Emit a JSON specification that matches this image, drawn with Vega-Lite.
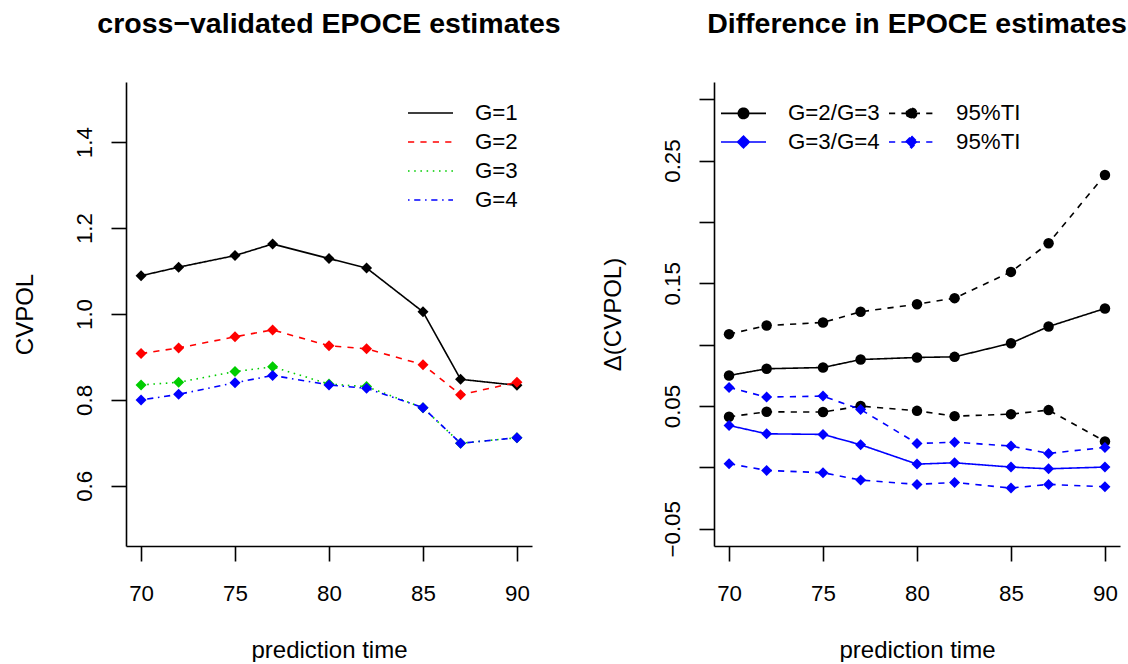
{
  "$schema": "https://vega.github.io/schema/vega-lite/v6.json",
  "padding": {"left": 13, "top": 9, "right": 2, "bottom": 0},
  "config": {
    "font": "Liberation Sans",
    "view": {"stroke": null},
    "axis": {
      "domainColor": "black", "domainWidth": 1.6, "tickColor": "black", "tickWidth": 1.6, "tickSize": 15,
      "labelFont": "Liberation Sans", "labelFontSize": 22.3, "labelColor": "black", "labelOverlap": false,
      "titleFont": "Liberation Sans", "titleFontSize": 24, "titleColor": "black", "titleFontWeight": "normal",
      "grid": false
    },
    "axisX": {"labelBaseline": "alphabetic", "labelPadding": 39, "labelAngle": 0, "titleY": 111, "titleBaseline": "alphabetic", "titleAlign": "center", "titleX": 203},
    "axisY": {"labelAngle": 270, "labelAlign": "center", "labelBaseline": "alphabetic", "labelPadding": 20, "titleX": -94, "titleY": 232, "titleAngle": 270, "titleAlign": "center", "titleBaseline": "alphabetic"},
    "title": {"font": "Liberation Sans", "fontSize": 28.5, "fontWeight": "bold", "color": "black", "anchor": "middle", "baseline": "alphabetic", "offset": 44, "frame": "group"},
    "legend": {"symbolOpacity": 1, "labelFont": "Liberation Sans", "labelFontSize": 22.3, "labelColor": "black", "padding": 0, "symbolStrokeWidth": 1.6, "clipHeight": 22}
  },
  "datasets": {
    "left": [
      {"t": 70, "cvpol": 1.089, "G": "G=1"}, {"t": 72, "cvpol": 1.109, "G": "G=1"}, {"t": 75, "cvpol": 1.136, "G": "G=1"},
      {"t": 77, "cvpol": 1.163, "G": "G=1"}, {"t": 80, "cvpol": 1.129, "G": "G=1"}, {"t": 82, "cvpol": 1.107, "G": "G=1"},
      {"t": 85, "cvpol": 1.005, "G": "G=1"}, {"t": 87, "cvpol": 0.848, "G": "G=1"}, {"t": 90, "cvpol": 0.834, "G": "G=1"},
      {"t": 70, "cvpol": 0.908, "G": "G=2"}, {"t": 72, "cvpol": 0.921, "G": "G=2"}, {"t": 75, "cvpol": 0.947, "G": "G=2"},
      {"t": 77, "cvpol": 0.963, "G": "G=2"}, {"t": 80, "cvpol": 0.926, "G": "G=2"}, {"t": 82, "cvpol": 0.919, "G": "G=2"},
      {"t": 85, "cvpol": 0.882, "G": "G=2"}, {"t": 87, "cvpol": 0.812, "G": "G=2"}, {"t": 90, "cvpol": 0.841, "G": "G=2"},
      {"t": 70, "cvpol": 0.835, "G": "G=3"}, {"t": 72, "cvpol": 0.841, "G": "G=3"}, {"t": 75, "cvpol": 0.866, "G": "G=3"},
      {"t": 77, "cvpol": 0.877, "G": "G=3"}, {"t": 80, "cvpol": 0.837, "G": "G=3"}, {"t": 82, "cvpol": 0.831, "G": "G=3"},
      {"t": 85, "cvpol": 0.782, "G": "G=3"}, {"t": 87, "cvpol": 0.699, "G": "G=3"}, {"t": 90, "cvpol": 0.712, "G": "G=3"},
      {"t": 70, "cvpol": 0.800, "G": "G=4"}, {"t": 72, "cvpol": 0.813, "G": "G=4"}, {"t": 75, "cvpol": 0.840, "G": "G=4"},
      {"t": 77, "cvpol": 0.857, "G": "G=4"}, {"t": 80, "cvpol": 0.835, "G": "G=4"}, {"t": 82, "cvpol": 0.827, "G": "G=4"},
      {"t": 85, "cvpol": 0.782, "G": "G=4"}, {"t": 87, "cvpol": 0.699, "G": "G=4"}, {"t": 90, "cvpol": 0.712, "G": "G=4"}
    ],
    "right": [
      {"t": 70, "d": 0.0749, "grp": "G=2/G=3", "line": "est23"}, {"t": 72, "d": 0.0804, "grp": "G=2/G=3", "line": "est23"},
      {"t": 75, "d": 0.0814, "grp": "G=2/G=3", "line": "est23"}, {"t": 77, "d": 0.0879, "grp": "G=2/G=3", "line": "est23"},
      {"t": 80, "d": 0.0896, "grp": "G=2/G=3", "line": "est23"}, {"t": 82, "d": 0.0901, "grp": "G=2/G=3", "line": "est23"},
      {"t": 85, "d": 0.1012, "grp": "G=2/G=3", "line": "est23"}, {"t": 87, "d": 0.1148, "grp": "G=2/G=3", "line": "est23"},
      {"t": 90, "d": 0.1295, "grp": "G=2/G=3", "line": "est23"},
      {"t": 70, "d": 0.1086, "grp": "TI23", "line": "hi23"}, {"t": 72, "d": 0.1156, "grp": "TI23", "line": "hi23"},
      {"t": 75, "d": 0.1181, "grp": "TI23", "line": "hi23"}, {"t": 77, "d": 0.1268, "grp": "TI23", "line": "hi23"},
      {"t": 80, "d": 0.1330, "grp": "TI23", "line": "hi23"}, {"t": 82, "d": 0.1379, "grp": "TI23", "line": "hi23"},
      {"t": 85, "d": 0.1593, "grp": "TI23", "line": "hi23"}, {"t": 87, "d": 0.1827, "grp": "TI23", "line": "hi23"},
      {"t": 90, "d": 0.2383, "grp": "TI23", "line": "hi23"},
      {"t": 70, "d": 0.0413, "grp": "TI23", "line": "lo23"}, {"t": 72, "d": 0.0453, "grp": "TI23", "line": "lo23"},
      {"t": 75, "d": 0.0451, "grp": "TI23", "line": "lo23"}, {"t": 77, "d": 0.0500, "grp": "TI23", "line": "lo23"},
      {"t": 80, "d": 0.0461, "grp": "TI23", "line": "lo23"}, {"t": 82, "d": 0.0418, "grp": "TI23", "line": "lo23"},
      {"t": 85, "d": 0.0434, "grp": "TI23", "line": "lo23"}, {"t": 87, "d": 0.0467, "grp": "TI23", "line": "lo23"},
      {"t": 90, "d": 0.0212, "grp": "TI23", "line": "lo23"},
      {"t": 70, "d": 0.0342, "grp": "G=3/G=4", "line": "est34"}, {"t": 72, "d": 0.0274, "grp": "G=3/G=4", "line": "est34"},
      {"t": 75, "d": 0.0269, "grp": "G=3/G=4", "line": "est34"}, {"t": 77, "d": 0.0185, "grp": "G=3/G=4", "line": "est34"},
      {"t": 80, "d": 0.0027, "grp": "G=3/G=4", "line": "est34"}, {"t": 82, "d": 0.0038, "grp": "G=3/G=4", "line": "est34"},
      {"t": 85, "d": 0.0003, "grp": "G=3/G=4", "line": "est34"}, {"t": 87, "d": -0.0011, "grp": "G=3/G=4", "line": "est34"},
      {"t": 90, "d": 0.0003, "grp": "G=3/G=4", "line": "est34"},
      {"t": 70, "d": 0.0651, "grp": "TI34", "line": "hi34"}, {"t": 72, "d": 0.0573, "grp": "TI34", "line": "hi34"},
      {"t": 75, "d": 0.0581, "grp": "TI34", "line": "hi34"}, {"t": 77, "d": 0.0472, "grp": "TI34", "line": "hi34"},
      {"t": 80, "d": 0.0195, "grp": "TI34", "line": "hi34"}, {"t": 82, "d": 0.0206, "grp": "TI34", "line": "hi34"},
      {"t": 85, "d": 0.0174, "grp": "TI34", "line": "hi34"}, {"t": 87, "d": 0.0114, "grp": "TI34", "line": "hi34"},
      {"t": 90, "d": 0.0163, "grp": "TI34", "line": "hi34"},
      {"t": 70, "d": 0.0030, "grp": "TI34", "line": "lo34"}, {"t": 72, "d": -0.0024, "grp": "TI34", "line": "lo34"},
      {"t": 75, "d": -0.0043, "grp": "TI34", "line": "lo34"}, {"t": 77, "d": -0.0103, "grp": "TI34", "line": "lo34"},
      {"t": 80, "d": -0.0138, "grp": "TI34", "line": "lo34"}, {"t": 82, "d": -0.0122, "grp": "TI34", "line": "lo34"},
      {"t": 85, "d": -0.0168, "grp": "TI34", "line": "lo34"}, {"t": 87, "d": -0.0138, "grp": "TI34", "line": "lo34"},
      {"t": 90, "d": -0.0157, "grp": "TI34", "line": "lo34"}
    ]
  },
  "spacing": 182,
  "bounds": "flush",
  "resolve": {"scale": {"color": "independent", "strokeDash": "independent", "shape": "independent", "stroke": "independent"}},
  "hconcat": [
    {
      "width": 406, "height": 464,
      "title": {"text": "cross−validated EPOCE estimates"},
      "data": {"name": "left"},
      "encoding": {
        "x": {"field": "t", "type": "quantitative", "scale": {"domain": [69.2, 90.8], "nice": false, "zero": false},
              "axis": {"values": [70, 75, 80, 85, 90], "format": "d", "title": "prediction time"}},
        "y": {"field": "cvpol", "type": "quantitative", "scale": {"domain": [0.46, 1.54], "nice": false, "zero": false},
              "axis": {"values": [0.6, 0.8, 1.0, 1.2, 1.4], "format": ".1f", "title": "CVPOL"}}
      },
      "layer": [
        {
          "mark": {"type": "line", "strokeWidth": 1.6},
          "encoding": {
            "color": {"field": "G", "type": "nominal",
                      "scale": {"domain": ["G=1", "G=2", "G=3", "G=4"], "range": ["black", "#FF0000", "#00CD00", "#0000FF"]},
                      "legend": {"orient": "none", "legendX": 281, "legendY": 20, "title": null, "symbolType": "stroke",
                                 "symbolSize": 2025, "labelOffset": 21, "rowPadding": 6}},
            "strokeDash": {"field": "G", "type": "nominal",
                           "scale": {"domain": ["G=1", "G=2", "G=3", "G=4"], "range": [[1, 0], [6.2, 6.2], [1.55, 4.65], [1.55, 4.65, 6.2, 4.65]]}}
          }
        },
        {
          "mark": {"type": "point", "shape": "diamond", "filled": true, "size": 121, "opacity": 1},
          "encoding": {
            "color": {"field": "G", "type": "nominal",
                      "scale": {"domain": ["G=1", "G=2", "G=3", "G=4"], "range": ["black", "#FF0000", "#00CD00", "#0000FF"]},
                      "legend": null}
          }
        }
      ]
    },
    {
      "width": 406, "height": 464,
      "title": {"text": "Difference in EPOCE estimates"},
      "data": {"name": "right"},
      "encoding": {
        "x": {"field": "t", "type": "quantitative", "scale": {"domain": [69.2, 90.8], "nice": false, "zero": false},
              "axis": {"values": [70, 75, 80, 85, 90], "format": "d", "title": "prediction time"}},
        "y": {"field": "d", "type": "quantitative", "scale": {"domain": [-0.064, 0.314], "nice": false, "zero": false},
              "axis": {"values": [-0.05, 0, 0.05, 0.1, 0.15, 0.2, 0.25, 0.3],
                       "labelExpr": "abs(datum.value - 0.05) < 0.001 ? '0.05' : abs(datum.value - 0.15) < 0.001 ? '0.15' : abs(datum.value - 0.25) < 0.001 ? '0.25' : abs(datum.value + 0.05) < 0.001 ? '−0.05' : ''",
                       "title": "Δ(CVPOL)"}}
      },
      "layer": [
        {
          "mark": {"type": "point", "filled": true, "opacity": 0, "size": 2025, "strokeWidth": 1.6},
          "encoding": {
            "color": {"field": "grp", "type": "nominal",
                      "scale": {"domain": ["G=2/G=3", "G=3/G=4", "TI23", "TI34"], "range": ["black", "#0000FF", "black", "#0000FF"]},
                      "legend": {"orient": "none", "legendX": 6, "legendY": 20, "title": null, "columns": 2, "columnPadding": 8,
                                 "rowPadding": 6, "symbolSize": 2025, "labelOffset": 21,
                                 "labelExpr": "datum.label == 'TI23' || datum.label == 'TI34' ? '95%TI' : datum.label"}},
            "stroke": {"field": "grp", "type": "nominal",
                       "scale": {"domain": ["G=2/G=3", "G=3/G=4", "TI23", "TI34"], "range": ["black", "#0000FF", "black", "#0000FF"]},
                       "legend": {"orient": "none", "legendX": 6, "legendY": 20, "title": null, "columns": 2, "columnPadding": 8,
                                  "rowPadding": 6, "symbolSize": 2025, "labelOffset": 21,
                                  "labelExpr": "datum.label == 'TI23' || datum.label == 'TI34' ? '95%TI' : datum.label"}},
            "shape": {"field": "grp", "type": "nominal",
                      "scale": {"domain": ["G=2/G=3", "G=3/G=4", "TI23", "TI34"],
                                "range": ["M-1,0L1,0M0.23,0A0.23,0.23,0,1,1,-0.23,0A0.23,0.23,0,1,1,0.23,0Z",
                                          "M-1,0L1,0M0,-0.26L0.26,0L0,0.26L-0.26,0Z",
                                          "M-1,0L1,0M0.23,0A0.23,0.23,0,1,1,-0.23,0A0.23,0.23,0,1,1,0.23,0Z",
                                          "M-1,0L1,0M0,-0.26L0.26,0L0,0.26L-0.26,0Z"]},
                      "legend": {"orient": "none", "legendX": 6, "legendY": 20, "title": null, "columns": 2, "columnPadding": 8,
                                 "rowPadding": 6, "symbolSize": 2025, "labelOffset": 21,
                                 "labelExpr": "datum.label == 'TI23' || datum.label == 'TI34' ? '95%TI' : datum.label"}},
            "strokeDash": {"field": "grp", "type": "nominal",
                           "scale": {"domain": ["G=2/G=3", "G=3/G=4", "TI23", "TI34"], "range": [[1, 0], [1, 0], [6.2, 6.2], [6.2, 6.2]]},
                           "legend": {"orient": "none", "legendX": 6, "legendY": 20, "title": null, "columns": 2, "columnPadding": 8,
                                      "rowPadding": 6, "symbolSize": 2025, "labelOffset": 21,
                                      "labelExpr": "datum.label == 'TI23' || datum.label == 'TI34' ? '95%TI' : datum.label"}}
          }
        },
        {
          "data": {"values": [{}]},
          "mark": {"type": "rule", "color": "#D3D3D3", "strokeWidth": 1.6},
          "encoding": {"x": {"datum": 70, "type": "quantitative"}, "x2": {"datum": 90}, "y": {"datum": 0, "type": "quantitative"}}
        },
        {
          "mark": {"type": "line", "strokeWidth": 1.6},
          "encoding": {
            "detail": {"field": "line", "type": "nominal"},
            "color": {"field": "grp", "type": "nominal",
                      "scale": {"domain": ["G=2/G=3", "G=3/G=4", "TI23", "TI34"], "range": ["black", "#0000FF", "black", "#0000FF"]},
                      "legend": null},
            "strokeDash": {"field": "grp", "type": "nominal",
                           "scale": {"domain": ["G=2/G=3", "G=3/G=4", "TI23", "TI34"], "range": [[1, 0], [1, 0], [6.2, 6.2], [6.2, 6.2]]},
                           "legend": null}
          }
        },
        {
          "transform": [{"filter": {"field": "grp", "oneOf": ["G=2/G=3", "TI23"]}}],
          "mark": {"type": "point", "shape": "circle", "filled": true, "size": 110, "opacity": 1},
          "encoding": {
            "color": {"field": "grp", "type": "nominal",
                      "scale": {"domain": ["G=2/G=3", "G=3/G=4", "TI23", "TI34"], "range": ["black", "#0000FF", "black", "#0000FF"]},
                      "legend": null}
          }
        },
        {
          "transform": [{"filter": {"field": "grp", "oneOf": ["G=3/G=4", "TI34"]}}],
          "mark": {"type": "point", "shape": "diamond", "filled": true, "size": 121, "opacity": 1},
          "encoding": {
            "color": {"field": "grp", "type": "nominal",
                      "scale": {"domain": ["G=2/G=3", "G=3/G=4", "TI23", "TI34"], "range": ["black", "#0000FF", "black", "#0000FF"]},
                      "legend": null}
          }
        }
      ]
    }
  ]
}
